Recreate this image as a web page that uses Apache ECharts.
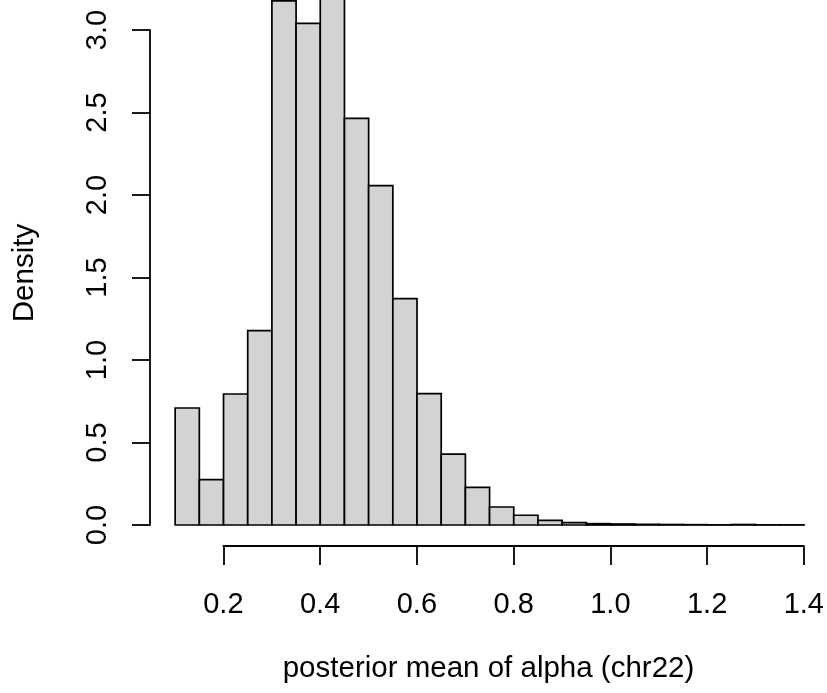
<!DOCTYPE html>
<html>
<head>
<meta charset="utf-8">
<script src="https://cdn.jsdelivr.net/npm/echarts@6/dist/echarts.min.js"></script>
<style>
  html, body { margin: 0; padding: 0; background: #fff; }
  #chart { width: 827px; height: 693px; }
</style>
</head>
<body>
<div id="chart"></div>
<script>
// Histogram bin edges and densities
const breaks = [0.10, 0.15, 0.20, 0.25, 0.30, 0.35, 0.40, 0.45, 0.50, 0.55, 0.60, 0.65, 0.70,
                0.75, 0.80, 0.85, 0.90, 0.95, 1.00, 1.05, 1.10, 1.15, 1.20, 1.25, 1.30, 1.35, 1.40];
const density = [0.709, 0.275, 0.794, 1.178, 3.176, 3.040, 3.210, 2.465, 2.057, 1.372, 0.796, 0.430, 0.228,
                 0.109, 0.059, 0.028, 0.014, 0.008, 0.006, 0.004, 0.003, 0.002, 0.001, 0.003, 0.001, 0.001];
const xTickLabels = ['0.2', '0.4', '0.6', '0.8', '1.0', '1.2', '1.4'];
const yTickLabels = ['0.0', '0.5', '1.0', '1.5', '2.0', '2.5', '3.0'];
const xTitle = 'posterior mean of alpha (chr22)';
const yTitle = 'Density';

const bins = density.map((d, i) => [breaks[i], breaks[i + 1], d]);

const FONT = "'Liberation Sans', Arial, Helvetica, sans-serif";
const chart = echarts.init(document.getElementById('chart'), null, { renderer: 'canvas' });

chart.setOption({
  animation: false,
  backgroundColor: '#ffffff',
  grid: [
    // bars + visible y axis
    { left: 150, right: 23, top: 30, bottom: 168 },
    // visible x axis (0.2 .. 1.4)
    { left: 223.4, right: 23, top: 500, bottom: 147 },
    // full plot region, for axis titles
    { left: 150, right: -2, top: -21, bottom: 147 }
  ],
  xAxis: [
    { gridIndex: 0, type: 'value', min: 0.048, max: 1.4, show: false },
    {
      gridIndex: 1, type: 'value', min: 0.2, max: 1.4, interval: 0.2,
      position: 'bottom',
      axisLine: { show: true, lineStyle: { color: '#000', width: 1.8 } },
      axisTick: { show: true, length: 19, lineStyle: { color: '#000', width: 1.8 } },
      splitLine: { show: false },
      axisLabel: {
        show: true, margin: 44, color: '#000', fontSize: 29, fontFamily: FONT,
        formatter: (v, i) => xTickLabels[i]
      }
    },
    {
      gridIndex: 2, type: 'value', min: 0, max: 1,
      axisLine: { show: false }, axisTick: { show: false }, axisLabel: { show: false },
      splitLine: { show: false },
      name: xTitle, nameLocation: 'middle', nameGap: 108,
      nameTextStyle: { color: '#000', fontSize: 29.5, fontFamily: FONT }
    }
  ],
  yAxis: [
    {
      gridIndex: 0, type: 'value', min: 0, max: 3, interval: 0.5,
      axisLine: { show: true, lineStyle: { color: '#000', width: 1.8 } },
      axisTick: { show: true, length: 18, lineStyle: { color: '#000', width: 1.8 } },
      splitLine: { show: false },
      axisLabel: {
        show: true, rotate: 90, margin: 38, color: '#000', fontSize: 29, fontFamily: FONT,
        formatter: (v, i) => yTickLabels[i]
      }
    },
    { gridIndex: 1, type: 'value', min: 0, max: 1, show: false },
    {
      gridIndex: 2, type: 'value', min: 0, max: 1,
      axisLine: { show: false }, axisTick: { show: false }, axisLabel: { show: false },
      splitLine: { show: false },
      name: yTitle, nameLocation: 'middle', nameGap: 110,
      nameTextStyle: { color: '#000', fontSize: 29.5, fontFamily: FONT }
    }
  ],
  series: [
    {
      type: 'custom',
      xAxisIndex: 0, yAxisIndex: 0,
      clip: false,
      data: bins,
      renderItem: function (params, api) {
        const p0 = api.coord([api.value(0), 0]);
        const p1 = api.coord([api.value(1), api.value(2)]);
        return {
          type: 'rect',
          shape: { x: p0[0], y: p1[1], width: p1[0] - p0[0], height: p0[1] - p1[1] },
          style: { fill: '#d3d3d3', stroke: '#000', lineWidth: 1.7 }
        };
      }
    }
  ]
});
</script>
</body>
</html>
